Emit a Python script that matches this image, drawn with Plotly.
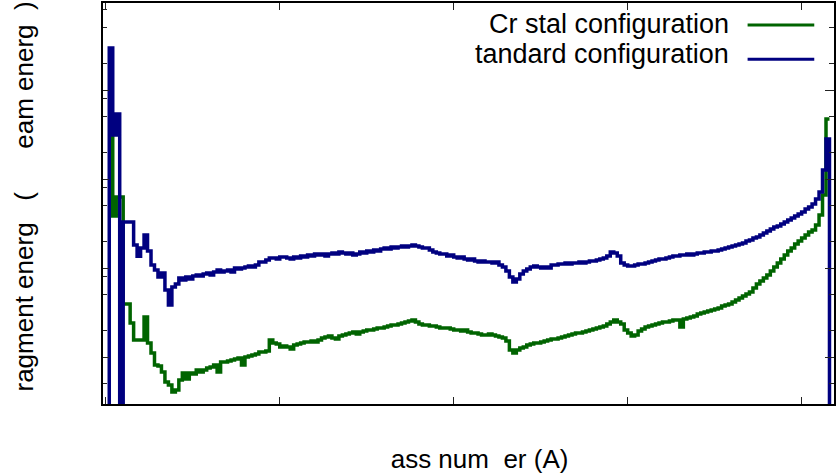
import plotly.graph_objects as go

# Mass number bins (A = 0 .. 208)
mass_number = list(range(0, 209))

# Standard configuration (% beam energy), per mass number bin
standard_energy = [
    0.001, 297, 31.2, 53.8, 0.001,                 # 0-4
    3.29, 3.29, 3.29, 1.81, 1.36,                  # 5-9
    1.68, 2.35, 1.55, 1.08, 0.951,                 # 10-14
    0.793, 0.880, 0.567, 0.384, 0.612,             # 15-19
    0.662, 0.773, 0.734, 0.793, 0.753,             # 20-24
    0.814, 0.835, 0.814, 0.857, 0.880,             # 25-29
    0.835, 0.903, 0.951, 0.903, 0.926,             # 30-34
    0.951, 0.903, 1.000, 0.975, 1.000,             # 35-39
    1.026, 1.053, 1.026, 1.081, 1.168,             # 40-44
    1.168, 1.230, 1.295, 1.295, 1.262,             # 45-49
    1.329, 1.329, 1.295, 1.262, 1.329,             # 50-54
    1.295, 1.364, 1.329, 1.400, 1.364,             # 55-59
    1.436, 1.400, 1.436, 1.364, 1.436,             # 60-64
    1.474, 1.436, 1.513, 1.474, 1.436,             # 65-69
    1.474, 1.400, 1.436, 1.513, 1.474,             # 70-74
    1.552, 1.513, 1.593, 1.552, 1.635,             # 75-79
    1.678, 1.635, 1.722, 1.678, 1.722,             # 80-84
    1.767, 1.722, 1.767, 1.813, 1.767,             # 85-89
    1.722, 1.678, 1.678, 1.593, 1.513,             # 90-94
    1.474, 1.436, 1.436, 1.364, 1.400,             # 95-99
    1.329, 1.295, 1.329, 1.262, 1.230,             # 100-104
    1.262, 1.199, 1.168, 1.199, 1.168,             # 105-109
    1.168, 1.138, 1.168, 1.081, 1.026,             # 110-114
    0.926, 0.793, 0.697, 0.753, 0.857,             # 115-119
    0.926, 0.975, 1.026, 1.053, 1.026,             # 120-124
    1.000, 1.026, 1.000, 1.081, 1.081,             # 125-129
    1.109, 1.109, 1.138, 1.109, 1.138,             # 130-134
    1.138, 1.168, 1.138, 1.168, 1.199,             # 135-139
    1.199, 1.230, 1.262, 1.295, 1.364,             # 140-144
    1.513, 1.474, 1.364, 1.138, 1.081,             # 145-149
    1.053, 1.053, 1.081, 1.109, 1.109,             # 150-154
    1.138, 1.168, 1.199, 1.230, 1.262,             # 155-159
    1.262, 1.295, 1.329, 1.364, 1.364,             # 160-164
    1.400, 1.400, 1.436, 1.400, 1.436,             # 165-169
    1.474, 1.474, 1.513, 1.513, 1.552,             # 170-174
    1.552, 1.593, 1.635, 1.678, 1.722,             # 175-179
    1.767, 1.813, 1.861, 1.910, 2.011,             # 180-184
    2.064, 2.174, 2.231, 2.349, 2.474,             # 185-189
    2.606, 2.744, 2.890, 2.966, 3.123,             # 190-194
    3.289, 3.464, 3.648, 3.842, 4.046,             # 195-199
    4.261, 4.605, 4.850, 5.242, 5.966,             # 200-204
    7.151, 12.6, 28.2, 0.001,                      # 205-208
]

# Crystal configuration (% beam energy), per mass number bin
crystal_energy = [
    None, 29.7, 3.84, 6.28, 6.28,                  # 0-4
    0.394, 0.394, 0.241, 0.155, 0.155,             # 5-9
    0.155, 0.282, 0.144, 0.111, 0.0814,            # 10-14
    0.0793, 0.0679, 0.0524, 0.0485, 0.0405,        # 15-19
    0.0426, 0.0552, 0.0662, 0.0567, 0.0662,        # 20-24
    0.0645, 0.0715, 0.0679, 0.0715, 0.0753,        # 25-29
    0.0773, 0.0814, 0.0679, 0.0880, 0.0880,        # 30-34
    0.0903, 0.0926, 0.0951, 0.0976, 0.0814,        # 35-39
    0.100, 0.1026, 0.1053, 0.1081, 0.1138,         # 40-44
    0.1138, 0.1168, 0.155, 0.144, 0.140,           # 45-49
    0.1295, 0.1329, 0.1295, 0.123, 0.1364,         # 50-54
    0.140, 0.1436, 0.1474, 0.1474, 0.1513,         # 55-59
    0.1474, 0.1552, 0.1635, 0.1678, 0.1722,        # 60-64
    0.1635, 0.1593, 0.1722, 0.1767, 0.1813,        # 65-69
    0.1861, 0.191, 0.1813, 0.191, 0.196,           # 70-74
    0.2011, 0.2011, 0.2064, 0.2118, 0.2118,        # 75-79
    0.2174, 0.2231, 0.2289, 0.2289, 0.2349,        # 80-84
    0.2411, 0.2474, 0.2539, 0.2606, 0.2474,        # 85-89
    0.2349, 0.2289, 0.2289, 0.2231, 0.2231,        # 90-94
    0.2174, 0.2118, 0.2118, 0.2118, 0.2064,        # 95-99
    0.2011, 0.2011, 0.196, 0.2011, 0.191,          # 100-104
    0.1861, 0.1861, 0.1813, 0.1767, 0.1767,        # 105-109
    0.1813, 0.1767, 0.1722, 0.1678, 0.1635,        # 110-114
    0.1513, 0.1199, 0.111, 0.1199, 0.1262,         # 115-119
    0.1295, 0.1364, 0.140, 0.1436, 0.1436,         # 120-124
    0.1474, 0.1513, 0.1552, 0.1593, 0.1593,        # 125-129
    0.1635, 0.1678, 0.1722, 0.1767, 0.1813,        # 130-134
    0.1861, 0.1861, 0.191, 0.196, 0.2011,          # 135-139
    0.2064, 0.2118, 0.2174, 0.2231, 0.2349,        # 140-144
    0.2474, 0.2606, 0.2474, 0.2349, 0.2011,        # 145-149
    0.1861, 0.1722, 0.1767, 0.196, 0.2064,         # 150-154
    0.2174, 0.2231, 0.2289, 0.2349, 0.2411,        # 155-159
    0.2474, 0.2474, 0.2539, 0.2606, 0.2606,        # 160-164
    0.2174, 0.2674, 0.2744, 0.2816, 0.289,         # 165-169
    0.3044, 0.3123, 0.3205, 0.3289, 0.3376,        # 170-174
    0.3464, 0.3555, 0.3744, 0.3842, 0.394,         # 175-179
    0.4152, 0.4373, 0.4605, 0.485, 0.5108,         # 180-184
    0.5379, 0.5966, 0.6617, 0.7151, 0.7729,        # 185-189
    0.835, 0.926, 1.026, 1.138, 1.262,             # 190-194
    1.400, 1.552, 1.678, 1.861, 2.011,             # 195-199
    2.174, 2.349, 2.539, 2.674, 3.044,             # 200-204
    3.943, 6.617, 47.3, 47.3,                      # 205-208
]

assert len(standard_energy) == len(mass_number)
assert len(crystal_energy) == len(mass_number)

series_names = ["Cr stal configuration", "tandard configuration"]
series_colors = ["#006400", "#000080"]

x_ticks = [0, 50, 100, 150, 200]
y_major = [0.1, 1, 10, 100]
y_minor_left = [0.05, 0.2, 0.5, 0.8, 2, 5, 8, 20, 50, 80, 200, 500, 800]
y_minor_right = [0.05, 0.2, 0.5, 2, 5, 20, 50, 200, 500]

NB = "\u00a0"
x_title = NB * 3 + "ass num" + NB * 2 + "er (A)"
y_title = NB * 2 + "ragment energ" + NB * 3 + "(" + NB * 6 + "eam energ" + NB * 2 + ")"

FONT = "Liberation Sans, Arial, sans-serif"
Y_RANGE = [-1.528, 2.978]
X_RANGE = [-0.8, 209.3]

fig = go.Figure()
fig.add_trace(go.Scatter(
    x=mass_number, y=crystal_energy, mode="lines", line_shape="hv",
    line=dict(color=series_colors[0], width=3.5), name=series_names[0],
    connectgaps=False, showlegend=False))
fig.add_trace(go.Scatter(
    x=mass_number, y=standard_energy, mode="lines", line_shape="hv",
    line=dict(color=series_colors[1], width=3.5), name=series_names[1],
    showlegend=False))
# empty trace to attach the right-hand mirror axis
fig.add_trace(go.Scatter(x=[], y=[], yaxis="y2", showlegend=False, hoverinfo="skip"))

fig.update_layout(
    width=836, height=475,
    margin=dict(l=103, r=2, t=3, b=71),
    paper_bgcolor="white", plot_bgcolor="white",
    font=dict(family=FONT, size=26, color="black"),
    xaxis=dict(
        range=X_RANGE, showgrid=False, zeroline=False,
        showline=True, linecolor="black", linewidth=1.5, mirror="ticks",
        ticks="inside", ticklen=7, tickwidth=1, tickcolor="#222",
        tickvals=x_ticks, showticklabels=False,
    ),
    yaxis=dict(
        type="log", range=Y_RANGE, showgrid=False, zeroline=False,
        showline=True, linecolor="black", linewidth=1.5, mirror=False,
        ticks="inside", ticklen=6, tickwidth=1, tickcolor="#222",
        tickvals=y_major, showticklabels=False,
        minor=dict(tickmode="array", tickvals=y_minor_left, ticks="inside",
                   ticklen=4, tickwidth=1, tickcolor="#222", showgrid=False),
    ),
    yaxis2=dict(
        type="log", range=Y_RANGE, overlaying="y", side="right",
        showgrid=False, zeroline=False,
        showline=True, linecolor="black", linewidth=1.5,
        ticks="inside", ticklen=9, tickwidth=1, tickcolor="#222",
        tickvals=y_major, showticklabels=False,
        minor=dict(tickmode="array", tickvals=y_minor_right, ticks="inside",
                   ticklen=5, tickwidth=1, tickcolor="#222", showgrid=False),
    ),
    showlegend=False,
)

# axis titles
fig.add_annotation(text=x_title, xref="paper", yref="paper", x=0.5, y=-0.137,
                   showarrow=False, xanchor="center", yanchor="middle",
                   font=dict(family=FONT, size=26, color="black"))
fig.add_annotation(text=y_title, xref="paper", yref="paper", x=-0.108, y=0.499,
                   showarrow=False, xanchor="center", yanchor="middle", textangle=-90,
                   font=dict(family=FONT, size=26, color="black"))

# legend (text to the left of the line sample)
legend_rows_y = [0.9480, 0.8740]
legend_lines_y = [0.9451, 0.8596]
for name, color, ty, ly in zip(series_names, series_colors, legend_rows_y, legend_lines_y):
    fig.add_annotation(text=name, xref="paper", yref="paper", x=0.859, y=ty,
                       showarrow=False, xanchor="right", yanchor="middle",
                       font=dict(family=FONT, size=27, color="black"))
    fig.add_shape(type="line", xref="paper", yref="paper",
                  x0=0.8818, x1=0.973, y0=ly, y1=ly,
                  line=dict(color=color, width=3))

fig.write_html("out.html",
               config={"displayModeBar": False},
               post_script="document.body.style.margin='0px';document.body.style.padding='0px';")
